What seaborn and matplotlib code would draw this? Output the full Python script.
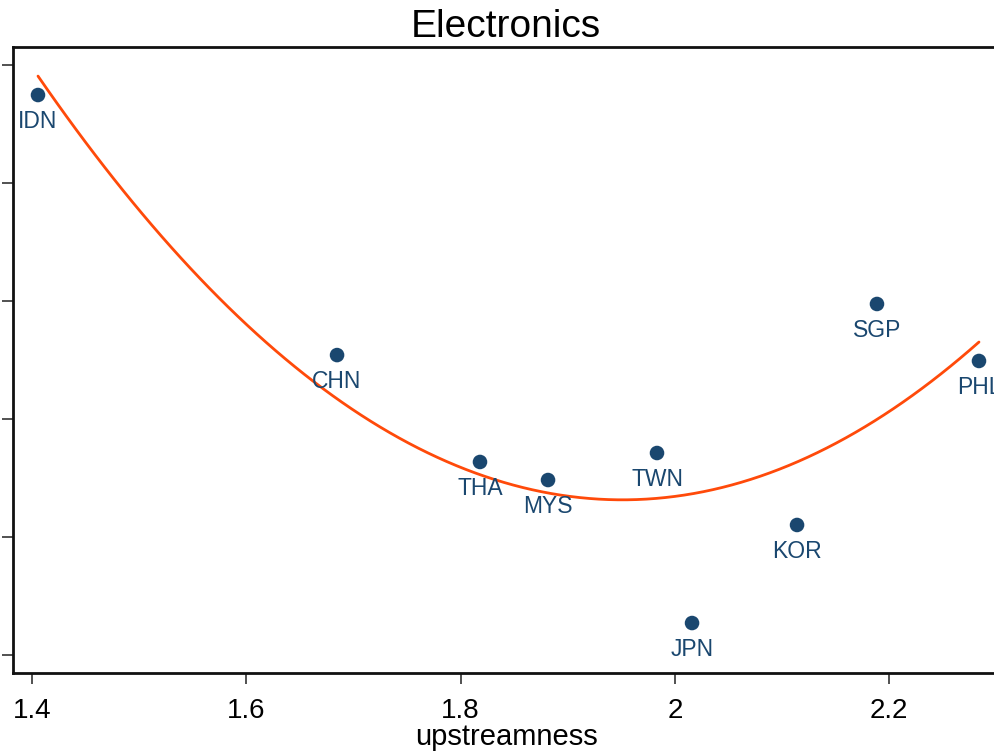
import numpy as np
import pandas as pd
import seaborn as sns
import matplotlib.pyplot as plt

countries = ["IDN", "CHN", "THA", "MYS", "TWN", "JPN", "KOR", "SGP", "PHL"]
upstreamness = [1.4056, 1.6847, 1.8181, 1.8816, 1.9833, 2.0160, 2.1140, 2.1886, 2.2838]
outcome = [4.746, 2.542, 1.636, 1.483, 1.712, 0.271, 1.102, 2.975, 2.492]
xticks = [1.4, 1.6, 1.8, 2.0, 2.2]
xtick_labels = ["1.4", "1.6", "1.8", "2", "2.2"]
yticks = [0, 1, 2, 3, 4, 5]

df = pd.DataFrame({"country": countries, "upstreamness": upstreamness, "y": outcome})

sns.set_style("ticks")
plt.rcParams['font.family'] = ['Liberation Sans', 'DejaVu Sans']
plt.rcParams['text.color'] = 'black'
plt.rcParams['axes.labelcolor'] = 'black'
plt.rcParams['xtick.color'] = 'black'
plt.rcParams['ytick.color'] = 'black'

navy = "#1a476f"
orange = "#ff4a0a"

fig = plt.figure(figsize=(9.95, 7.51), dpi=100)
# axes runs past the right edge, like the cropped original
ax = fig.add_axes([13/995, 78/751, 990/995, 626/751])

sns.regplot(data=df, x="upstreamness", y="y", order=2, ci=None, scatter=False,
            line_kws={"color": orange, "lw": 2}, ax=ax)
sns.scatterplot(data=df, x="upstreamness", y="y", s=110, color=navy,
                edgecolor="none", ax=ax, zorder=3)
for c, xv, yv in zip(countries, upstreamness, outcome):
    ax.annotate(c, (xv, yv), xytext=(0, -11), textcoords="offset points",
                ha="center", va="top", fontsize=16.5, color=navy)

ax.set_xlim(1.38227, 2.30621)
ax.set_ylim(-0.1525, 5.153)
ax.set_xticks(xticks)
ax.set_xticklabels(xtick_labels, fontsize=20)
ax.set_yticks(yticks)
ax.set_yticklabels([])
ax.set_ylabel("")
ax.set_xlabel("upstreamness", fontsize=21, labelpad=-1, x=0.498)
ax.set_title("Electronics", fontsize=28, pad=7, x=0.498)
ax.tick_params(length=8, width=1.2, color="#333333")
ax.tick_params(axis="x", pad=10)
for sp in ax.spines.values():
    sp.set_linewidth(2)
    sp.set_color("#111111")
ax.spines["right"].set_visible(False)

fig.savefig("out.png", dpi=100)
